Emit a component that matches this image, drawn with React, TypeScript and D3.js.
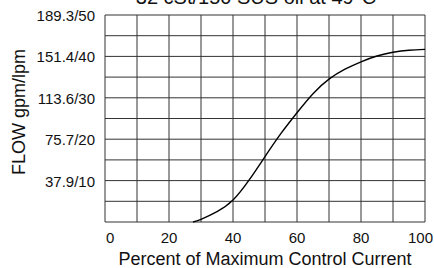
import React from 'react';
import * as d3 from 'd3';

// curve
const current = [27.5, 30, 35, 40, 45, 50, 55, 60, 65, 70, 75, 80, 85, 90, 95, 100];
const flow = [0, 0.65, 2.5, 5.3, 10.1, 15.8, 21.4, 26.4, 31.0, 34.5, 36.9, 38.7, 40.1, 41.0, 41.5, 41.7];

const xTicks = [0, 20, 40, 60, 80, 100];
const yTicks = [10, 20, 30, 40, 50];
const yTickLabels = ['37.9/10', '75.7/20', '113.6/30', '151.4/40', '189.3/50'];

const App = () => {
  const width = 434;
  const height = 268;
  const margin = { top: 15, right: 9, bottom: 46, left: 105 };
  const font = 'Liberation Sans, Arial, sans-serif';

  const x = d3.scaleLinear().domain([0, 100]).range([margin.left, width - margin.right]);
  const y = d3.scaleLinear().domain([0, 50]).range([height - margin.bottom, margin.top]);

  const line = d3
    .line<number>()
    .x((d, i) => x(current[i]))
    .y((d) => y(d))
    .curve(d3.curveNatural);

  const vGrid = d3.range(0, 101, 10);
  const hGrid = d3.range(0, 51, 5);

  // first and last x labels are nudged inward like the original
  const xLabelPos = (t: number) => {
    if (t === 0) return { x: x(t) + 1, anchor: 'start' };
    if (t === 100) return { x: width - 1, anchor: 'end' };
    return { x: x(t), anchor: 'middle' };
  };

  return (
    <svg
      width={width}
      height={height}
      style={{ position: 'absolute', left: 0, top: 0, background: 'white' }}
      fontFamily={font}
    >
      {/* Grid */}
      {vGrid.map((v) => (
        <line key={'v' + v} x1={x(v)} x2={x(v)} y1={y(0)} y2={y(50)} stroke="#333" strokeWidth={1} />
      ))}
      {hGrid.map((v) => (
        <line key={'h' + v} x1={x(0)} x2={x(100)} y1={y(v)} y2={y(v)} stroke="#333" strokeWidth={1} />
      ))}

      {/* Curve */}
      <path d={line(flow) || ''} fill="none" stroke="#000" strokeWidth={1.4} />

      {/* Tick labels */}
      {xTicks.map((t) => {
        const p = xLabelPos(t);
        return (
          <text key={'xt' + t} x={p.x} y={y(0) + 21} textAnchor={p.anchor} fontSize={15} fill="#111">
            {t}
          </text>
        );
      })}
      {yTicks.map((t, i) => (
        <text key={'yt' + t} x={margin.left - 10} y={y(t) + 6} textAnchor="end" fontSize={15} fill="#111">
          {yTickLabels[i]}
        </text>
      ))}

      {/* Axis titles */}
      <text x={265} y={265} textAnchor="middle" fontSize={18} fill="#111">
        Percent of Maximum Control Current
      </text>
      <text
        transform={`translate(25,112) rotate(-90)`}
        textAnchor="middle"
        fontSize={18}
        fill="#111"
      >
        FLOW gpm/lpm
      </text>

      {/* Title (clipped at the top) */}
      <text x={256} y={4} textAnchor="middle" fontSize={20} fill="#111">
        32 cSt/150 SUS oil at 49°C
      </text>
    </svg>
  );
};

export default App;
